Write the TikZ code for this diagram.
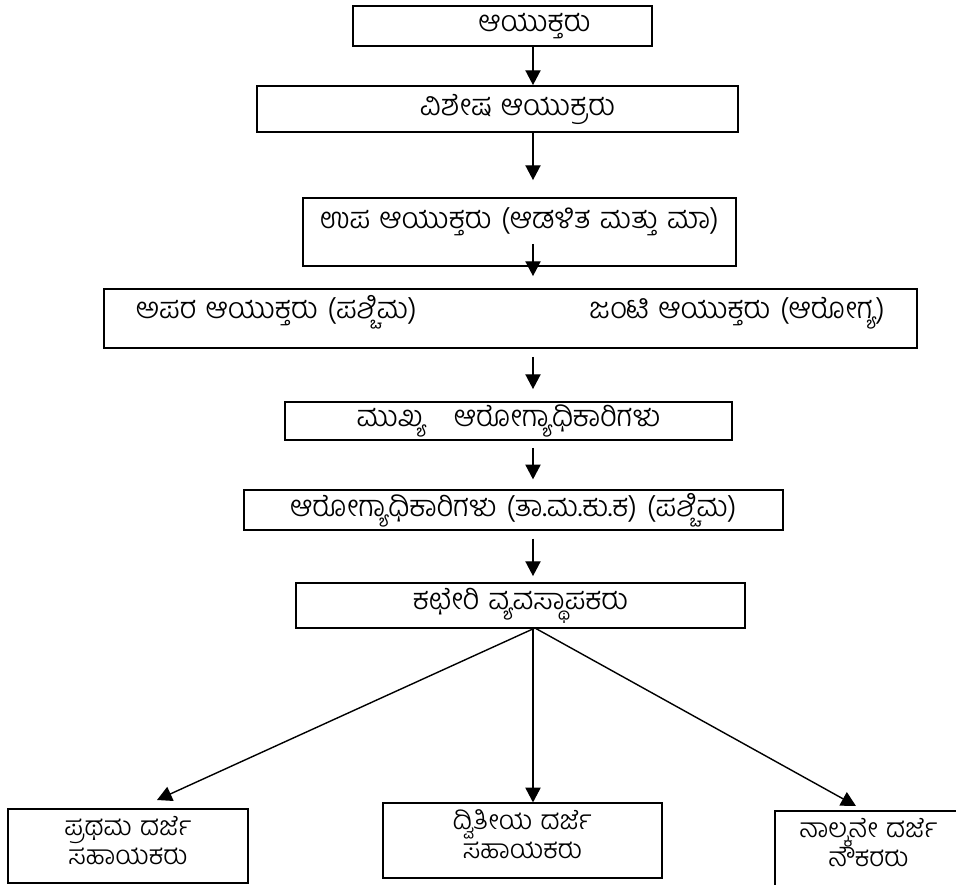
\documentclass[tikz,border=0pt]{standalone}
\usepackage{fontspec}
\newfontfamily\kannadafont[Script=Kannada,WordSpace=1.3]{Hind Mysuru Light}
\usetikzlibrary{arrows.meta}

\tikzset{
  post node/.style={draw, line width=1.3pt, inner sep=2pt,
                    font=\kannadafont\fontsize{21}{22}\selectfont},
  low node/.style={draw, line width=1.3pt, align=center, inner xsep=1pt,
                   inner ysep=0.1cm, text height=1.29cm,
                   font=\kannadafont\fontsize{19}{21}\selectfont},
  down arrow/.style={-{Triangle[length=0.37cm,width=0.38cm]}, line width=1pt}
}

\begin{document}
\begin{tikzpicture}[x=0.025cm, y=-0.025cm]
  \useasboundingbox (0,0) rectangle (956,884);

  % the chain of posts, top to bottom
  \node[post node, minimum width=7.475cm, minimum height=1.0cm] (comm) at (502.5,26) {\hspace*{1.6cm}ಆಯುಕ್ತರು};
  \node[post node, minimum width=12.025cm, minimum height=1.15cm] (spl) at (497.5,109) {\hspace*{1.0cm}ವಿಶೇಷ ಆಯುಕ್ರರು};
  \node[post node, minimum width=10.825cm, inner ysep=0.15cm, text height=0.6cm, text depth=0.8cm] (dep) at (519.5,232) {ಉಪ ಆಯುಕ್ತರು (ಆಡಳಿತ ಮತ್ತು ಮಾ)};
  \node[post node, minimum width=20.325cm, inner ysep=0.15cm, text height=0.575cm, text depth=0.6cm] (add) at (510.5,318.5)
    {ಅಪರ ಆಯುಕ್ತರು (ಪಶ್ಚಿಮ)\hspace{4.3cm}ಜಂಟಿ ಆಯುಕ್ತರು (ಆರೋಗ್ಯ)};
  \node[post node, minimum width=11.175cm, minimum height=0.95cm] (cho) at (508.5,421) {ಮುಖ್ಯ\ \ \ ಆರೋಗ್ಯಾಧಿಕಾರಿಗಳು};
  \node[post node, minimum width=13.475cm, minimum height=0.9cm] (ho) at (513.5,510) {ಆರೋಗ್ಯಾಧಿಕಾರಿಗಳು (ತಾ.ಮ.ಕು.ಕ) (ಪಶ್ಚಿಮ)};
  \node[post node, minimum width=11.225cm, minimum height=1.125cm] (om) at (520.5,605.5) {ಕಛೇರಿ ವ್ಯವಸ್ಥಾಪಕರು};

  % the three posts under the office manager
  \node[low node, minimum width=6.0cm, text depth=0.36cm] (fda) at (128,846) {ಪ್ರಥಮ ದರ್ಜೆ\\ಸಹಾಯಕರು};
  \node[low node, line width=0.8pt, minimum width=6.975cm, text depth=0.385cm] (sda) at (522.5,840.5) {ದ್ವಿತೀಯ ದರ್ಜೆ\\ಸಹಾಯಕರು};
  \node[low node, minimum width=4.675cm, text depth=0.435cm] (dgr) at (868.5,849.5) {ನಾಲ್ಕನೇ ದರ್ಜೆ\\ನೌಕರರು};

  \coordinate (spine) at (533,0);
  \coordinate (fork) at (535,628);
  \coordinate (fdatip) at (157,800);
  \coordinate (dgrtip) at (856,806);

  \draw[down arrow] (comm.south -| spine) -- (spl.north -| spine);
  \draw[down arrow, shorten >=0.425cm] (spl.south -| spine) -- (dep.north -| spine);
  \draw[down arrow, shorten >=0.3cm] ([yshift=0.575cm]dep.south -| spine) -- (add.north -| spine);
  \draw[down arrow, shorten <=0.2cm, shorten >=0.3cm] (add.south -| spine) -- (cho.north -| spine);
  \draw[down arrow, shorten <=0.175cm, shorten >=0.25cm] (cho.south -| spine) -- (ho.north -| spine);
  \draw[down arrow, shorten <=0.2cm, shorten >=0.15cm] (ho.south -| spine) -- (om.north -| spine);

  \draw[down arrow] (fork) -- (fdatip);
  \draw[down arrow] (om.south -| spine) -- (sda.north -| spine);
  \draw[down arrow] (fork) -- (dgrtip);
\end{tikzpicture}
\end{document}
